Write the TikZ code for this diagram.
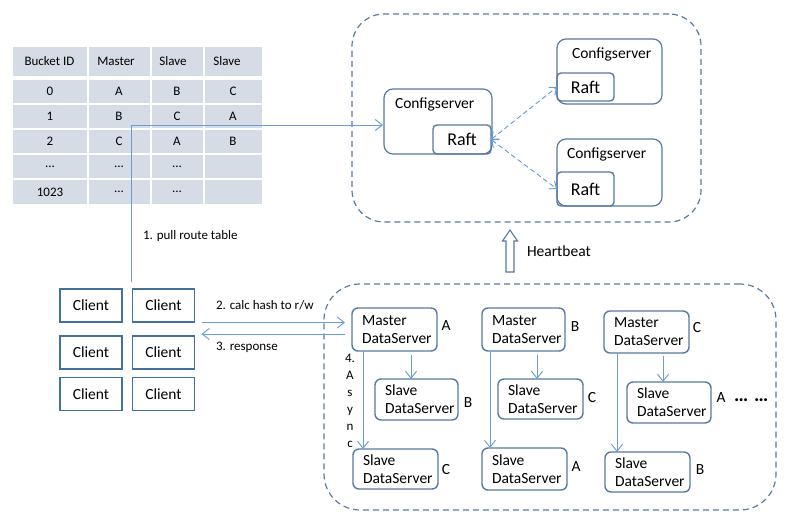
\documentclass[tikz,border=0pt]{standalone}
\usepackage{fontspec}
\setmainfont{Carlito}
\usetikzlibrary{arrows.meta,calc}
\definecolor{tablefill}{RGB}{214,220,229}
\definecolor{clientline}{RGB}{65,113,156}
\definecolor{srvline}{RGB}{88,122,162}
\definecolor{arrowc}{RGB}{106,156,214}
\definecolor{dashc}{RGB}{92,122,158}
\newcommand{\tabcell}[7]{%
  \fill[tablefill] (#1,#3) rectangle (#2,#4);
  \node[cellfont] (#5) at ({#7},{(#3+#4)/2}) {#6};}
\begin{document}
\begin{tikzpicture}[x=1pt,y=-1pt,
  every node/.style={inner sep=0pt,outer sep=0pt},
  cellfont/.style={font=\fontsize{13}{15}\selectfont},
  lbl/.style={font=\fontsize{13}{15}\selectfont},
  txt/.style={font=\fontsize{15.5}{18}\selectfont},
  client/.style={draw=clientline,line width=1.1pt,minimum width=62pt,minimum height=33pt,txt},
  cfgbox/.style={draw=srvline,line width=1.2pt,rounded corners=9pt},
  raftbox/.style={draw=srvline,line width=1.4pt,rounded corners=4pt,font=\fontsize{18}{20}\selectfont},
  dsbox/.style={draw=srvline,line width=1.4pt,rounded corners=6pt},
  zone/.style={draw=dashc,line width=1.2pt,dash pattern=on 6pt off 4pt,rounded corners=32pt},
  arr/.style={draw=arrowc,line width=0.95pt,-{Straight Barb[length=7pt,width=11pt]}},
  darr/.style={draw=arrowc,line width=0.95pt,dash pattern=on 5pt off 3pt,{Straight Barb[length=6pt,width=10pt]}-{Straight Barb[length=6pt,width=10pt]}},
  dstext/.style={txt,align=left,anchor=west,xshift=10pt},
]
\useasboundingbox (0,0) rectangle (787,517);

% ---------- table ----------
\tabcell{13}{87}{47}{76}{h1}{Bucket ID}{49.5}
\tabcell{89}{150}{47}{76}{h2}{Master}{116}
\tabcell{152}{203}{47}{76}{h3}{Slave}{173}
\tabcell{205}{262}{47}{76}{h4}{Slave}{227}
\tabcell{13}{87}{80}{103}{t11}{0}{50}
\tabcell{89}{150}{80}{103}{t12}{A}{119}
\tabcell{152}{203}{80}{103}{t13}{B}{177}
\tabcell{205}{262}{80}{103}{t14}{C}{233}
\tabcell{13}{87}{105}{128}{t21}{1}{50}
\tabcell{89}{150}{105}{128}{t22}{B}{119}
\tabcell{152}{203}{105}{128}{t23}{C}{177}
\tabcell{205}{262}{105}{128}{t24}{A}{233}
\tabcell{13}{87}{130}{153}{t31}{2}{50}
\tabcell{89}{150}{130}{153}{t32}{C}{119}
\tabcell{152}{203}{130}{153}{t33}{A}{177}
\tabcell{205}{262}{130}{153}{t34}{B}{233}
\tabcell{13}{87}{155}{178}{t41}{...}{50}
\tabcell{89}{150}{155}{178}{t42}{...}{119}
\tabcell{152}{203}{155}{178}{t43}{...}{177}
\tabcell{205}{262}{155}{178}{t44}{}{233}
\tabcell{13}{87}{180}{204}{t51}{1023}{50}
\tabcell{89}{150}{180}{204}{t52}{...}{119}
\tabcell{152}{203}{180}{204}{t53}{...}{177}
\tabcell{205}{262}{180}{204}{t54}{}{233}

% ---------- zones ----------
\node[zone,minimum width=349pt,minimum height=208pt] (cfgzone) at (526.5,118) {};
\node[zone,minimum width=452pt,minimum height=226pt,rounded corners=36pt] (datazone) at (550,397) {};

% ---------- config servers ----------
\node[cfgbox,minimum width=108pt,minimum height=65pt] (cs1) at (438,121.5) {};
\node[txt,anchor=west] (cs1t) at ($(cs1.north west)+(11,15)$) {Configserver};
\node[raftbox,minimum width=58pt,minimum height=29pt] (r1) at (462,139.5) {Raft};

\node[cfgbox,minimum width=105pt,minimum height=65pt] (cs2) at (609.5,71.5) {};
\node[txt,anchor=west] (cs2t) at ($(cs2.north west)+(15,15)$) {Configserver};
\node[raftbox,minimum width=57pt,minimum height=28pt] (r2) at (585.5,87) {Raft};

\node[cfgbox,minimum width=105pt,minimum height=67pt] (cs3) at (609.5,172.5) {};
\node[txt,anchor=west] (cs3t) at ($(cs3.north west)+(10,15)$) {Configserver};
\node[raftbox,minimum width=57pt,minimum height=34pt] (r3) at (585.5,189) {Raft};

\draw[darr] (r1.east) -- (r2.west);
\draw[darr] (r1.east) -- (r3.west);

% ---------- heartbeat ----------
\draw[draw=srvline,line width=1.1pt,fill=white,line join=miter]
  (506,272) -- (506,241) -- (502.5,241) -- (510,230) -- (517.5,241) -- (514,241) -- (514,272) -- cycle;
\node[txt,anchor=west] (hbt) at (527,251) {Heartbeat};

% ---------- clients ----------
\node[client] (c11) at (91,305.5) {Client};
\node[client] (c12) at (163.5,305.5) {Client};
\node[client] (c21) at (91,352.5) {Client};
\node[client] (c22) at (163.5,352.5) {Client};
\node[client] (c31) at (91,394) {Client};
\node[client] (c32) at (163.5,394) {Client};

% ---------- data servers ----------
\node[dsbox,minimum width=85pt,minimum height=43pt,label={[dstext]west:Master\\DataServer}] (m1) at (394.5,329.5) {};
\node[dsbox,minimum width=83pt,minimum height=41pt,label={[dstext]west:Slave\\DataServer}] (s1b) at (416.5,399.5) {};
\node[dsbox,minimum width=85pt,minimum height=40pt,label={[dstext]west:Slave\\DataServer}] (s1c) at (395.5,469) {};
\node[dsbox,minimum width=83pt,minimum height=43pt,label={[dstext]west:Master\\DataServer}] (m2) at (523.5,329.5) {};
\node[dsbox,minimum width=85pt,minimum height=40pt,label={[dstext]west:Slave\\DataServer}] (s2c) at (540.5,399) {};
\node[dsbox,minimum width=85pt,minimum height=42pt,label={[dstext]west:Slave\\DataServer}] (s2a) at (524.5,469) {};
\node[dsbox,minimum width=85pt,minimum height=42pt,label={[dstext]west:Master\\DataServer}] (m3) at (646.5,332) {};
\node[dsbox,minimum width=84pt,minimum height=41pt,label={[dstext]west:Slave\\DataServer}] (s3a) at (669,402.5) {};
\node[dsbox,minimum width=85pt,minimum height=40pt,label={[dstext]west:Slave\\DataServer}] (s3b) at (647.5,472) {};

\node[txt] (lm1) at (446,326) {A};
\node[txt] (ls1b) at (468,403) {B};
\node[txt] (ls1c) at (446,470) {C};
\node[txt] (lm2) at (575,327) {B};
\node[txt] (ls2c) at (592,398) {C};
\node[txt] (ls2a) at (576,467) {A};
\node[txt] (lm3) at (697,328) {C};
\node[txt] (ls3a) at (721,398) {A};
\node[txt] (ls3b) at (700,470) {B};
\node[font=\fontsize{20}{22}\selectfont\bfseries,anchor=base west] (dots) at (734,401.5) {…\hspace{6pt}…};

% arrows inside data zone
\draw[arr] ($(m1.south)+(16.5,4)$) coordinate (a1) -- (a1 |- s1b.north);
\draw[arr] ($(m1.south)+(-31.5,0)$) coordinate (a2) -- (a2 |- s1c.north);
\draw[arr] ($(m2.south)+(13.5,4)$) coordinate (a3) -- (a3 |- s2c.north);
\draw[arr] ($(m2.south)+(-33.5,0)$) coordinate (a4) -- (a4 |- s2a.north);
\draw[arr] ($(m3.south)+(16.5,3)$) coordinate (a5) -- (a5 |- s3a.north);
\draw[arr] ($(m3.south)+(-29.5,0)$) coordinate (a6) -- (a6 |- s3b.north);

\node[font=\fontsize{13}{17}\selectfont,align=center] (async) at (350,401) {4.\\A\\s\\y\\n\\c};

% ---------- client connectors ----------
\draw[arr] ($(c12.north west)+(-1,-7)$) |- ($(cs1.west)+(-1,3.5)$);
\node[lbl,anchor=west] (l1) at (143,236) {1. pull route table};
\draw[arr] ($(c12.south east)+(7,0.5)$) -- ($(m1.west)+(-7,-7)$);
\draw[arr] ($(m1.west)+(-7,4.5)$) -- ($(c12.south east)+(7,12)$);
\node[lbl,anchor=west] (l2) at (216,305) {2. calc hash to r/w};
\node[lbl,anchor=west] (l3) at (216,347) {3. response};
\end{tikzpicture}
\end{document}
